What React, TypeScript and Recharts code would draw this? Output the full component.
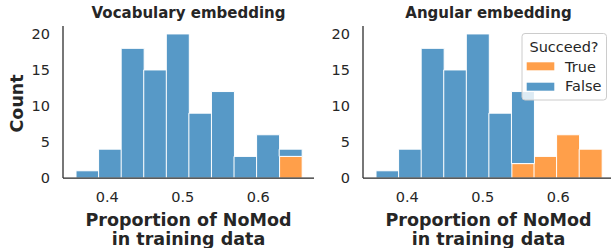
import React from "react";
import { BarChart, Bar, XAxis, YAxis } from "recharts";

// histogram bins (centres) shared by both panels
const binCenters = [0.3735, 0.4034, 0.4333, 0.4632, 0.4931, 0.523, 0.5529, 0.5828, 0.6127, 0.6426];

// counts per bin, split by "Succeed?"
const vocabTrue = [0, 0, 0, 0, 0, 0, 0, 0, 0, 3];
const vocabFalse = [1, 4, 18, 15, 20, 9, 12, 3, 6, 1];
const angularTrue = [0, 0, 0, 0, 0, 0, 2, 3, 6, 4];
const angularFalse = [1, 4, 18, 15, 20, 9, 10, 0, 0, 0];

const xTicks = [0.4, 0.5, 0.6];
const yTicks = [0, 5, 10, 15, 20];
const panelTitles = ["Vocabulary embedding", "Angular embedding"];
const hueLabels = ["True", "False"];

const BLUE = "#5799c7";
const ORANGE = "#ff9f4a";
const INK = "#262626";
const FONT = "'DejaVu Sans', sans-serif";

interface PanelProps {
  left: number;
  trueCounts: number[];
  falseCounts: number[];
}

function Panel({ left, trueCounts, falseCounts }: PanelProps) {
  const data = binCenters.map((x, i) => ({ x, t: trueCounts[i], f: falseCounts[i] }));
  return (
    <div style={{ position: "absolute", left, top: 0 }}>
      <BarChart
        width={320}
        height={248}
        data={data}
        margin={{ top: 26, right: 6, bottom: 0, left: 0 }}
        barCategoryGap={0}
        barGap={0}
      >
        <Bar dataKey="t" stackId="s" fill={ORANGE} stroke="#fff" strokeWidth={1} isAnimationActive={false} />
        <Bar dataKey="f" stackId="s" fill={BLUE} stroke="#fff" strokeWidth={1} isAnimationActive={false} />
        <XAxis
          dataKey="x"
          type="number"
          domain={[0.3413, 0.6738]}
          allowDataOverflow
          ticks={xTicks}
          tickFormatter={(v: number) => v.toFixed(1)}
          height={70}
          tickLine={false}
          tickSize={0}
          tickMargin={14}
          axisLine={{ stroke: INK, strokeWidth: 1.25 }}
          tick={{ fill: INK, fontSize: 14.5 }}
        />
        <YAxis
          type="number"
          domain={[0, 21.1]}
          allowDataOverflow
          ticks={yTicks}
          width={63}
          tickLine={false}
          tickSize={0}
          tickMargin={13}
          axisLine={{ stroke: INK, strokeWidth: 1.25 }}
          tick={{ fill: INK, fontSize: 14.5 }}
        />
      </BarChart>
    </div>
  );
}

export default function App() {
  const centers = [188.5, 488.5];
  return (
    <div
      style={{
        position: "absolute",
        left: 0,
        top: 0,
        width: 611,
        height: 248,
        overflow: "hidden",
        background: "#fff",
        fontFamily: FONT,
      }}
    >
      <Panel left={0} trueCounts={vocabTrue} falseCounts={vocabFalse} />
      <Panel left={300} trueCounts={angularTrue} falseCounts={angularFalse} />
      <svg
        width={611}
        height={248}
        style={{ position: "absolute", left: 0, top: 0, pointerEvents: "none" }}
        fontFamily={FONT}
        fill={INK}
      >
        {panelTitles.map((t, i) => (
          <text key={t} x={centers[i]} y={18.3} textAnchor="middle" fontSize={15} fontWeight="bold">
            {t}
          </text>
        ))}
        {centers.map((cx) => (
          <g key={cx} fontSize={17.5} fontWeight="bold" textAnchor="middle">
            <text x={cx} y={225.7}>Proportion of NoMod</text>
            <text x={cx} y={245}>in training data</text>
          </g>
        ))}
        <text transform="translate(23.3,103.4) rotate(-90)" textAnchor="middle" fontSize={17.5} fontWeight="bold">
          Count
        </text>
        {/* legend */}
        <rect x={522} y={33.5} width={84.5} height={66.5} rx={3} fill="#fff" fillOpacity={0.8} stroke="#cccccc" strokeWidth={1} />
        <text x={564} y={51.7} textAnchor="middle" fontSize={14.5}>Succeed?</text>
        <rect x={526.7} y={62.3} width={27.6} height={8} fill={ORANGE} />
        <text x={565} y={71.7} fontSize={14.5}>{hueLabels[0]}</text>
        <rect x={526.7} y={82.7} width={27.6} height={8} fill={BLUE} />
        <text x={565} y={91} fontSize={14.5}>{hueLabels[1]}</text>
      </svg>
    </div>
  );
}
